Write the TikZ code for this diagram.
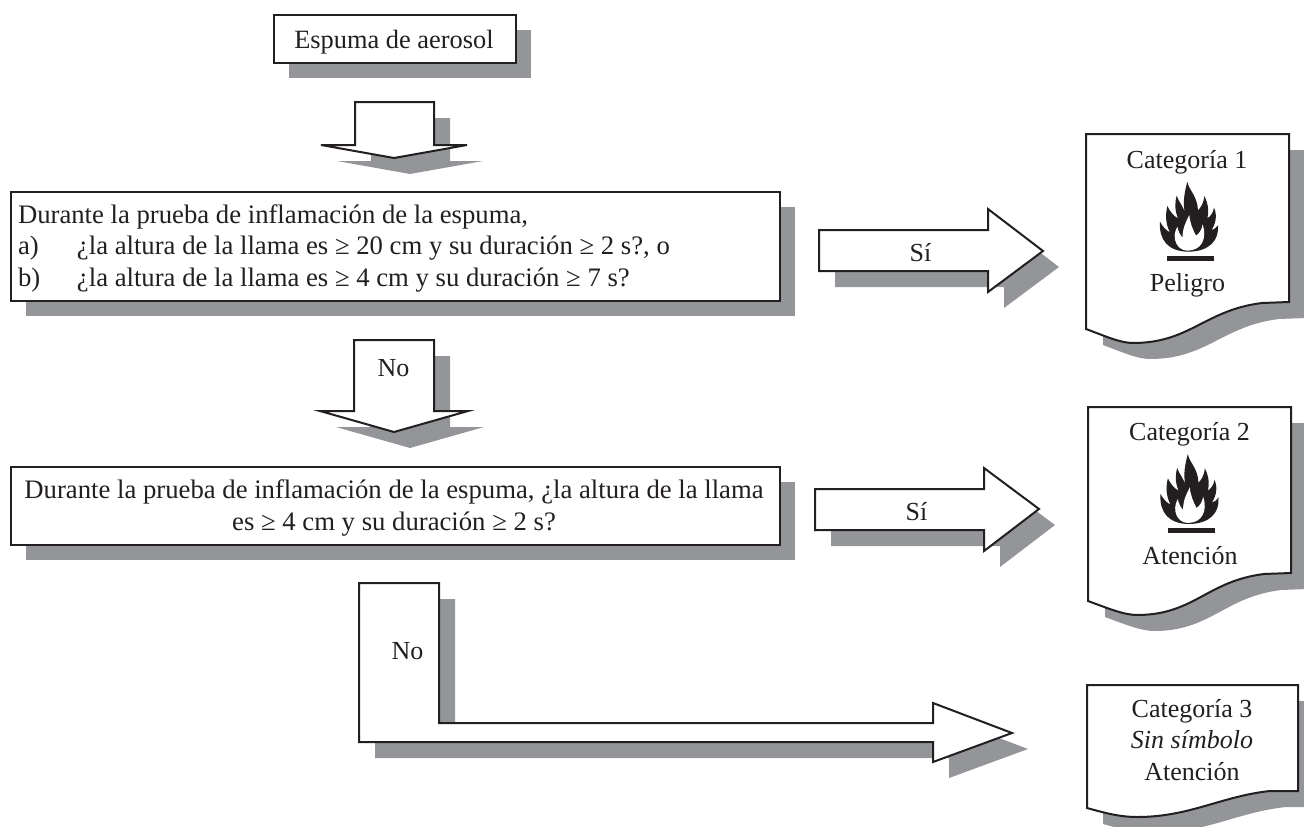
\documentclass[tikz,border=0pt]{standalone}
\usepackage{fontspec}
\setmainfont{Liberation Serif}
\definecolor{ink}{HTML}{231F20}
\definecolor{shade}{HTML}{939598}
\tikzset{
  outline/.style={draw=ink,fill=white,line width=2pt,line join=miter},
  shadowfill/.style={fill=shade,draw=none},
  framebox/.style={outline,rectangle,inner sep=0pt,anchor=north west},
  framedrop/.style={shadowfill,rectangle,inner sep=0pt,anchor=north west},
  lbl/.style={inner sep=0pt,outer sep=0pt,anchor=base,text=ink,font=\fontsize{26}{31.5}\selectfont},
  lblbig/.style={lbl,font=\fontsize{26.7}{31.5}\selectfont},
}
\newcommand{\shadowed}[2]{%
  \fill[shadowfill,shift={(#1)}] #2;
  \draw[outline] #2;}
\newcommand{\flamepic}[2]{%
  \begin{scope}[shift={(#1,#2)},x=0.3333pt,y=-0.3333pt]
    \fill[ink] (112,20) .. controls (116,45) and (142,62) .. (144,106)
      .. controls (152,98) and (161,85) .. (163,63)
      .. controls (174,85) and (178,105) .. (172,130)
      .. controls (182,124) and (190,112) .. (192,98)
      .. controls (202,120) and (198,145) .. (184,166)
      .. controls (192,164) and (199,158) .. (204,151)
      .. controls (208,195) and (178,230) .. (115,230)
      .. controls (55,230) and (26,195) .. (30,140)
      .. controls (38,155) and (48,166) .. (60,172)
      .. controls (46,145) and (46,120) .. (52,93)
      .. controls (60,110) and (72,124) .. (84,130)
      .. controls (74,105) and (74,85) .. (80,62)
      .. controls (86,80) and (98,92) .. (104,110)
      .. controls (98,80) and (104,50) .. (112,20) -- cycle;
    \fill[white] (118,120) .. controls (120,145) and (128,162) .. (138,182)
      .. controls (148,175) and (155,165) .. (158,148)
      .. controls (172,190) and (155,227) .. (112,227)
      .. controls (82,227) and (62,190) .. (82,155)
      .. controls (85,170) and (90,180) .. (98,188)
      .. controls (97,160) and (108,140) .. (118,120) -- cycle;
    \fill[ink] (51,243) rectangle (192,258);
  \end{scope}}
\begin{document}
\begin{tikzpicture}[x=1pt,y=-1pt]
\useasboundingbox (0,0) rectangle (1304,827);
\begin{scope}
\clip (0,0) rectangle (1304,827);
% top box
\node[framedrop,minimum width=242pt,minimum height=48pt] (dropA) at (289,30) {};
\node[framebox,minimum width=242pt,minimum height=48pt] (boxA) at (273,14) {};
\node[lbl,font=\fontsize{26.4}{31.5}\selectfont] (txtA) at (394,48) {Espuma de aerosol};
% arrow 1
\shadowed{16,16}{(355,102) -- (434,102) -- (434,145) -- (467,145) -- (394,158) -- (321,145) -- (355,145) -- cycle}
% box 2
\node[framedrop,minimum width=769pt,minimum height=109pt] (dropB) at (26,207) {};
\node[framebox,minimum width=769pt,minimum height=109pt] (boxB) at (10,191) {};
\node[lblbig,anchor=base west,align=left] (txtB) at (18,286) {Durante la prueba de inflamación de la espuma,\\\makebox[59pt][l]{a)}¿la altura de la llama es ≥ 20 cm y su duración ≥ 2 s?, o\\\makebox[59pt][l]{b)}¿la altura de la llama es ≥ 4 cm y su duración ≥ 7 s?};
% arrow No
\shadowed{16,16}{(354,340) -- (434,340) -- (434,411) -- (468,411) -- (394,432) -- (320,411) -- (354,411) -- cycle}
\node[lbl] (txtNoA) at (393.5,376) {No};
% box 3
\node[framedrop,minimum width=769pt,minimum height=78pt] (dropC) at (26,482) {};
\node[framebox,minimum width=769pt,minimum height=78pt] (boxC) at (10,466) {};
\node[lblbig,align=center] (txtC) at (394,530) {Durante la prueba de inflamación de la espuma, ¿la altura de la llama\\es ≥ 4 cm y su duración ≥ 2 s?};
% L arrow
\shadowed{16,16}{(359,583) -- (439,583) -- (439,723) -- (933,723) -- (933,703) -- (1012,733) -- (933,762) -- (933,742) -- (359,742) -- cycle}
\node[lbl] (txtNoB) at (407.5,659) {No};
% Si arrows
\shadowed{16,16}{(819,230) -- (988,230) -- (988,209) -- (1043,251) -- (988,292) -- (988,271) -- (819,271) -- cycle}
\node[lbl] (txtSiA) at (920.5,261) {Sí};
\shadowed{16,16}{(815,489) -- (984,489) -- (984,468) -- (1039,509) -- (984,551) -- (984,530) -- (815,530) -- cycle}
\node[lbl] (txtSiB) at (916.5,520) {Sí};
% doc 1
\shadowed{17,16}{(1086,134) -- (1289,134) -- (1289,302) -- (1262,303) .. controls (1205,310) and (1190,343) .. (1133,343) .. controls (1120,343) and (1105,336) .. (1086,329) -- cycle}
\node[lbl] (catA) at (1187,168) {Categoría 1};
\flamepic{1150}{175}
\node[lbl] (sigA) at (1187.5,291) {Peligro};
% doc 2
\shadowed{17,16}{(1088,407) -- (1291,407) -- (1291,573) -- (1264,574) .. controls (1207,581) and (1194,615) .. (1137,615) .. controls (1124,615) and (1107,608) .. (1088,601) -- cycle}
\node[lbl] (catB) at (1189.5,440) {Categoría 2};
\flamepic{1150.5}{447.3}
\node[lbl] (sigB) at (1190,564) {Atención};
% doc 3
\shadowed{16,16}{(1087,685) -- (1298,685) -- (1298,791) -- (1270,791) .. controls (1222,796) and (1190,817) .. (1137,817) .. controls (1120,817) and (1105,813) .. (1087,808) -- cycle}
\node[lbl,align=center] (catC) at (1192,780) {Categoría 3\\\textit{Sin símbolo}\\Atención};
\end{scope}
\end{tikzpicture}
\end{document}
